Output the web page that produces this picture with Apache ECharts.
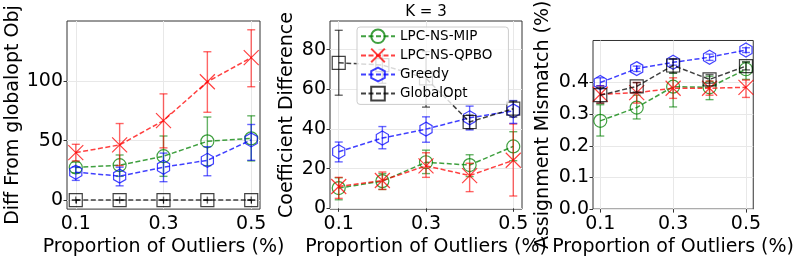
<!DOCTYPE html>
<html>
<head>
<meta charset="utf-8">
<script src="https://cdn.jsdelivr.net/npm/echarts@6/dist/echarts.min.js"></script>
<style>
html,body{margin:0;padding:0;background:#fff;}
#c{width:797px;height:262px;}
</style>
</head>
<body>
<div id="c"></div>
<script>
// ---- data ----
const xVals = [0.1, 0.2, 0.3, 0.4, 0.5];
const xTicks = [0.1, 0.3, 0.5];
const seriesNames = ['LPC-NS-MIP', 'LPC-NS-QPBO', 'Greedy', 'GlobalOpt'];

// Panel 1: Diff From globalopt Obj
const objMip = [27.5, 29.4, 37, 49.5, 52];
const objMipLo = [23, 20, 20, 29, 33];
const objMipHi = [32, 38, 54, 70, 71];
const objQpbo = [40, 46.5, 67, 99.7, 120];
const objQpboLo = [33, 29, 44, 74, 95.5];
const objQpboHi = [47, 64.5, 89.5, 125, 143.5];
const objGreedy = [23.5, 20.2, 27.7, 33.5, 50.7];
const objGreedyLo = [16.6, 12, 15.5, 20.5, 33.5];
const objGreedyHi = [28, 27.7, 39.6, 45, 63.7];
const objGlobal = [0, 0, 0, 0, 0];
const objGlobalLo = [0, 0, 0, 0, 0];
const objGlobalHi = [0, 0, 0, 0, 0];
const objTicks = [0, 50, 100];

// Panel 2: Coefficient Difference
const coefMip = [10.2, 13.7, 23.2, 21.8, 31.2];
const coefMipLo = [4.3, 9.5, 17.5, 16, 24];
const coefMipHi = [15.4, 17.5, 29.3, 27, 38.6];
const coefQpbo = [11, 14, 21.4, 16.5, 24.2];
const coefQpboLo = [5, 9.5, 15.6, 8.4, 6.2];
const coefQpboHi = [15.6, 18.3, 28, 22.7, 42.5];
const coefGreedy = [28.5, 35.4, 39.9, 45.6, 49.1];
const coefGreedyLo = [23.4, 30, 33.3, 39.5, 42.8];
const coefGreedyHi = [33.4, 41.2, 46.1, 51.5, 54.3];
const coefGlobal = [73.3, 72.2, 65.5, 43.5, 50.2];
const coefGlobalLo = [57, 63, 51, 40, 46];
const coefGlobalHi = [89.7, 80, 79, 47, 54];
const coefTicks = [0, 20, 40, 60, 80];

// Panel 3: Assignment Mismatch (%)
const asgMip = [0.279, 0.321, 0.387, 0.385, 0.442];
const asgMipLo = [0.231, 0.285, 0.323, 0.346, 0.41];
const asgMipHi = [0.33, 0.36, 0.43, 0.42, 0.465];
const asgQpbo = [0.363, 0.368, 0.382, 0.382, 0.385];
const asgQpboLo = [0.335, 0.335, 0.35, 0.36, 0.353];
const asgQpboHi = [0.39, 0.4, 0.415, 0.405, 0.408];
const asgGreedy = [0.4, 0.444, 0.464, 0.48, 0.503];
const asgGreedyLo = [0.39, 0.435, 0.455, 0.47, 0.495];
const asgGreedyHi = [0.415, 0.452, 0.474, 0.49, 0.51];
const asgGlobal = [0.36, 0.388, 0.454, 0.41, 0.452];
const asgGlobalLo = [0.335, 0.37, 0.43, 0.398, 0.44];
const asgGlobalHi = [0.385, 0.4, 0.475, 0.425, 0.465];
const asgTicks = [0, 0.1, 0.2, 0.3, 0.4];

// ---- styling ----
const FONT = 'DejaVu Sans';
const colors = ['#008000', '#ff0000', '#0000ff', '#000000'];
const HEX = 'path://M50,0L93.3,25L93.3,75L50,100L6.7,75L6.7,25Z';
const XS = 'path://M0,0L10,10M10,0L0,10';
const symbols = ['circle', XS, HEX, 'rect'];
const symSizes = [13, 15, 14, 13];

const grids = [
  {left: 67, top: 21, width: 193, height: 191},
  {left: 330, top: 21, width: 192, height: 191},
  {left: 593, top: 21, width: 192, height: 191}
];
const yRanges = [[-7.6, 150.9], [-0.4, 94.4], [0, 0.533]];
const yNames = ['Diff From globalopt Obj', 'Coefficient Difference', 'Assignment Mismatch (%)'];
const yGaps = [44, 33, 40];
const yTickSets = [objTicks, coefTicks, asgTicks];

const panels = [
  [[objMip, objMipLo, objMipHi], [objQpbo, objQpboLo, objQpboHi], [objGreedy, objGreedyLo, objGreedyHi], [objGlobal, objGlobalLo, objGlobalHi]],
  [[coefMip, coefMipLo, coefMipHi], [coefQpbo, coefQpboLo, coefQpboHi], [coefGreedy, coefGreedyLo, coefGreedyHi], [coefGlobal, coefGlobalLo, coefGlobalHi]],
  [[asgMip, asgMipLo, asgMipHi], [asgQpbo, asgQpboLo, asgQpboHi], [asgGreedy, asgGreedyLo, asgGreedyHi], [asgGlobal, asgGlobalLo, asgGlobalHi]]
];

const gridOpts = grids.map(g => Object.assign({show: true, borderColor: '#333', borderWidth: 1, containLabel: false}, g));

const xAxes = grids.map((g, i) => ({
  type: 'value', gridIndex: i, min: 0.08, max: 0.52,
  name: 'Proportion of Outliers (%)', nameLocation: 'middle', nameGap: 24,
  nameTextStyle: {fontFamily: FONT, fontSize: 19, color: '#000'},
  axisLine: {show: false},
  axisTick: {show: true, inside: false, length: 3.5, customValues: xTicks, lineStyle: {color: '#333', width: 1}},
  axisLabel: {customValues: xTicks, fontFamily: FONT, fontSize: 19, color: '#000', margin: 5,
    formatter: v => v.toFixed(1)},
  splitLine: {show: true, lineStyle: {color: '#e8e8e8', width: 1}}
}));

const yAxes = grids.map((g, i) => ({
  type: 'value', gridIndex: i, min: yRanges[i][0], max: yRanges[i][1],
  name: yNames[i], nameLocation: 'middle', nameGap: yGaps[i],
  nameTextStyle: {fontFamily: FONT, fontSize: 19, color: '#000'},
  axisLine: {show: false},
  axisTick: {show: true, inside: false, length: 3.5, customValues: yTickSets[i], lineStyle: {color: '#333', width: 1}},
  axisLabel: {customValues: yTickSets[i], fontFamily: FONT, fontSize: 19, color: '#000', margin: 4,
    formatter: v => (i === 2 ? v.toFixed(1) : String(Math.round(v)))},
  splitLine: {show: true, lineStyle: {color: '#e8e8e8', width: 1}}
}));

const series = [];
panels.forEach((panel, gi) => {
  panel.forEach((trip, si) => {
    const color = colors[si];
    const [mean, lo, hi] = trip;
    series.push({
      type: 'line', name: seriesNames[si], xAxisIndex: gi, yAxisIndex: gi,
      data: xVals.map((x, k) => [x, mean[k]]),
      symbol: symbols[si], symbolSize: symSizes[si], symbolKeepAspect: true, showSymbol: true,
      lineStyle: {color: color, width: 1.5, type: [5, 2.5], opacity: 0.75},
      itemStyle: {color: 'rgba(0,0,0,0)', borderColor: color, borderWidth: 1.2, opacity: 0.75},
      emphasis: {disabled: true}, silent: true, animation: false, z: 2 + si * 2
    });
    series.push({
      type: 'custom', name: 'err' + gi + '_' + si, xAxisIndex: gi, yAxisIndex: gi,
      data: xVals.map((x, k) => [x, lo[k], hi[k], mean[k]]),
      encode: {x: 0, y: [1, 2]},
      silent: true, animation: false, z: 3 + si * 2,
      renderItem: (params, api) => {
        const x = api.value(0);
        const p1 = api.coord([x, api.value(1)]);
        const p2 = api.coord([x, api.value(2)]);
        const pm = api.coord([x, api.value(3)]);
        const st = {stroke: color, lineWidth: 1.4, opacity: 0.6};
        const w = 4;
        const ch = [
          {type: 'line', shape: {x1: p1[0], y1: p1[1], x2: p2[0], y2: p2[1]}, style: st},
          {type: 'line', shape: {x1: p1[0] - w, y1: p1[1], x2: p1[0] + w, y2: p1[1]}, style: st},
          {type: 'line', shape: {x1: p2[0] - w, y1: p2[1], x2: p2[0] + w, y2: p2[1]}, style: st}
        ];
        if (Math.abs(p1[1] - p2[1]) < 6) {
          ch.push({type: 'line', shape: {x1: pm[0], y1: pm[1] - 3.5, x2: pm[0], y2: pm[1] + 3.5}, style: st});
        }
        return {type: 'group', children: ch};
      }
    });
  });
});

const chart = echarts.init(document.getElementById('c'), null, {renderer: 'canvas'});
chart.setOption({
  animation: false,
  backgroundColor: '#fff',
  grid: gridOpts,
  xAxis: xAxes,
  yAxis: yAxes,
  legend: {
    data: seriesNames, orient: 'vertical', left: 357, top: 27, z: 50,
    padding: [1.5, 16, 3, 3], itemGap: 3.5, itemWidth: 34, itemHeight: 17,
    backgroundColor: 'rgba(255,255,255,0.8)', borderColor: '#cccccc', borderWidth: 1, borderRadius: 3,
    textStyle: {fontFamily: FONT, fontSize: 13.5, color: '#000'},
    selectedMode: false
  },
  graphic: [{type: 'text', x: 426, y: 12, style: {text: 'K = 3', align: 'center', verticalAlign: 'middle', font: '15px "DejaVu Sans"', fill: '#000'}}],
  series: series
});
</script>
</body>
</html>
